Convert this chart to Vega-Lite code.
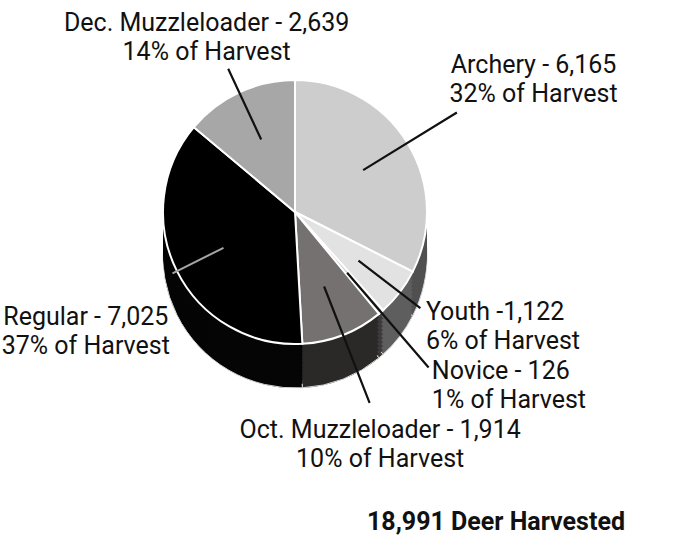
{
  "$schema": "https://vega.github.io/schema/vega-lite/v6.json",
  "width": 590,
  "height": 424,
  "autosize": {"type": "none"},
  "padding": {"left": 0, "top": 0, "right": 93, "bottom": 124},
  "background": "white",
  "config": {"view": {"stroke": null}},
  "title": {
    "text": "18,991 Deer Harvested",
    "orient": "bottom",
    "anchor": "end",
    "frame": "group",
    "dx": 35,
    "offset": 24,
    "font": "Roboto",
    "fontSize": 25,
    "fontWeight": "bold",
    "color": "#111111"
  },
  "data": {
    "values": [
      {"category": "Archery", "value": 6165, "rank": 1, "label": "Archery - 6,165\n32% of Harvest"},
      {"category": "Youth", "value": 1122, "rank": 2, "label": "Youth -1,122\n6% of Harvest"},
      {"category": "Novice", "value": 126, "rank": 3, "label": "Novice - 126\n1% of Harvest"},
      {"category": "Oct. Muzzleloader", "value": 1914, "rank": 4, "label": "Oct. Muzzleloader - 1,914\n10% of Harvest"},
      {"category": "Regular", "value": 7025, "rank": 5, "label": "Regular - 7,025\n37% of Harvest"},
      {"category": "Dec. Muzzleloader", "value": 2639, "rank": 6, "label": "Dec. Muzzleloader - 2,639\n14% of Harvest"}
    ]
  },
  "encoding": {
    "theta": {"field": "value", "type": "quantitative", "stack": true},
    "order": {"field": "rank", "type": "quantitative"}
  },
  "layer": [
    {
      "mark": {"type": "arc", "radius": 132, "yOffset": 44, "stroke": "#d4d4d4", "strokeWidth": 1},
      "encoding": {"fill": {"field": "category", "type": "nominal", "legend": null,
        "scale": {"domain": ["Archery", "Youth", "Novice", "Oct. Muzzleloader", "Regular", "Dec. Muzzleloader"],
                  "range": ["#505050", "#5e5e5e", "#3c3a3a", "#2b2828", "#050505", "#6a6a6a"]}}}
    },
    {"mark": {"type": "arc", "radius": 132, "yOffset": 40}, "encoding": {"fill": {"field": "category", "type": "nominal", "legend": null}}},
    {"mark": {"type": "arc", "radius": 132, "yOffset": 36}, "encoding": {"fill": {"field": "category", "type": "nominal", "legend": null}}},
    {"mark": {"type": "arc", "radius": 132, "yOffset": 32}, "encoding": {"fill": {"field": "category", "type": "nominal", "legend": null}}},
    {"mark": {"type": "arc", "radius": 132, "yOffset": 28}, "encoding": {"fill": {"field": "category", "type": "nominal", "legend": null}}},
    {"mark": {"type": "arc", "radius": 132, "yOffset": 24}, "encoding": {"fill": {"field": "category", "type": "nominal", "legend": null}}},
    {"mark": {"type": "arc", "radius": 132, "yOffset": 20}, "encoding": {"fill": {"field": "category", "type": "nominal", "legend": null}}},
    {"mark": {"type": "arc", "radius": 132, "yOffset": 16}, "encoding": {"fill": {"field": "category", "type": "nominal", "legend": null}}},
    {"mark": {"type": "arc", "radius": 132, "yOffset": 12}, "encoding": {"fill": {"field": "category", "type": "nominal", "legend": null}}},
    {"mark": {"type": "arc", "radius": 132, "yOffset": 8}, "encoding": {"fill": {"field": "category", "type": "nominal", "legend": null}}},
    {"mark": {"type": "arc", "radius": 132, "yOffset": 4}, "encoding": {"fill": {"field": "category", "type": "nominal", "legend": null}}},
    {
      "mark": {"type": "arc", "radius": 132, "stroke": "white", "strokeWidth": 2},
      "encoding": {"color": {"field": "category", "type": "nominal", "legend": null,
        "scale": {"domain": ["Archery", "Youth", "Novice", "Oct. Muzzleloader", "Regular", "Dec. Muzzleloader"],
                  "range": ["#cdcdcd", "#e2e2e2", "#c8c8c8", "#767171", "#000000", "#a7a7a7"]}}}
    },
    {
      "mark": {"type": "arc", "radius": 158, "radius2": 80, "padAngle": 3, "fillOpacity": 0, "stroke": "#111111", "strokeWidth": 2.2},
      "encoding": {
        "detail": {"field": "category", "type": "nominal"},
        "strokeOpacity": {"condition": {"test": "datum.category === 'Dec. Muzzleloader' || datum.category === 'Youth'", "value": 1}, "value": 0}
      }
    },
    {
      "mark": {"type": "arc", "radius": 190, "radius2": 80, "padAngle": 3, "fillOpacity": 0, "stroke": "#111111", "strokeWidth": 2.2},
      "encoding": {
        "detail": {"field": "category", "type": "nominal"},
        "strokeOpacity": {"condition": {"test": "datum.category === 'Archery'", "value": 1}, "value": 0}
      }
    },
    {
      "mark": {"type": "arc", "radius": 205, "radius2": 80, "padAngle": 3, "fillOpacity": 0, "stroke": "#111111", "strokeWidth": 2.2},
      "encoding": {
        "detail": {"field": "category", "type": "nominal"},
        "strokeOpacity": {"condition": {"test": "datum.category === 'Novice' || datum.category === 'Oct. Muzzleloader'", "value": 1}, "value": 0}
      }
    },
    {
      "mark": {"type": "arc", "radius": 137, "radius2": 80, "padAngle": 3, "fillOpacity": 0, "stroke": "#a6a6a6", "strokeWidth": 2},
      "encoding": {
        "detail": {"field": "category", "type": "nominal"},
        "strokeOpacity": {"condition": {"test": "datum.category === 'Regular'", "value": 1}, "value": 0}
      }
    },
    {
      "mark": {"type": "text", "radius": 209, "align": "center", "baseline": "middle", "font": "Roboto", "fontSize": 25, "lineBreak": "\n", "lineHeight": 29, "color": "#111111"},
      "encoding": {
        "detail": {"field": "category", "type": "nominal"},
        "text": {"condition": {"test": "datum.category === 'Dec. Muzzleloader'", "field": "label", "type": "nominal"}, "value": ""}
      }
    },
    {
      "mark": {"type": "text", "radius": 280, "align": "center", "baseline": "middle", "font": "Roboto", "fontSize": 25, "lineBreak": "\n", "lineHeight": 29, "color": "#111111"},
      "encoding": {
        "detail": {"field": "category", "type": "nominal"},
        "text": {"condition": {"test": "datum.category === 'Archery'", "field": "label", "type": "nominal"}, "value": ""}
      }
    },
    {
      "mark": {"type": "text", "radius": 165, "align": "left", "baseline": "middle", "font": "Roboto", "fontSize": 25, "lineBreak": "\n", "lineHeight": 29, "color": "#111111"},
      "encoding": {
        "detail": {"field": "category", "type": "nominal"},
        "text": {"condition": {"test": "datum.category === 'Youth'", "field": "label", "type": "nominal"}, "value": ""}
      }
    },
    {
      "mark": {"type": "text", "radius": 210, "align": "left", "baseline": "middle", "font": "Roboto", "fontSize": 25, "lineBreak": "\n", "lineHeight": 29, "color": "#111111"},
      "encoding": {
        "detail": {"field": "category", "type": "nominal"},
        "text": {"condition": {"test": "datum.category === 'Novice'", "field": "label", "type": "nominal"}, "value": ""}
      }
    },
    {
      "mark": {"type": "text", "radius": 234, "align": "center", "baseline": "middle", "font": "Roboto", "fontSize": 25, "lineBreak": "\n", "lineHeight": 29, "color": "#111111"},
      "encoding": {
        "detail": {"field": "category", "type": "nominal"},
        "text": {"condition": {"test": "datum.category === 'Oct. Muzzleloader' || datum.category === 'Regular'", "field": "label", "type": "nominal"}, "value": ""}
      }
    }
  ]
}
